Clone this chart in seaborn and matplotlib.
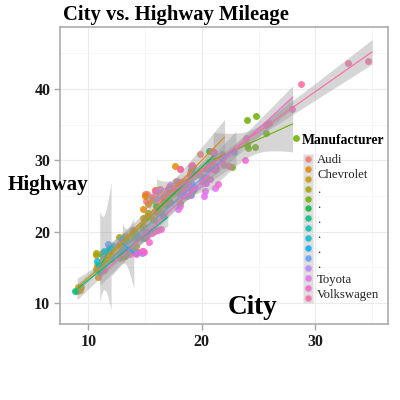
import numpy as np
import pandas as pd
import matplotlib
matplotlib.use("Agg")
import matplotlib.pyplot as plt
from matplotlib.lines import Line2D
import seaborn as sns

# ---- data (mpg: city / highway mileage by manufacturer) ----
manufacturers = ["audi", "chevrolet", "dodge", "ford", "honda", "hyundai", "jeep",
                 "land rover", "lincoln", "mercury", "nissan", "pontiac", "subaru",
                 "toyota", "volkswagen"]
cty_audi = [18, 21, 20, 21, 16, 18, 18, 18, 16, 20, 19, 15, 17, 17, 15, 15, 17, 16]
hwy_audi = [29, 29, 31, 30, 26, 26, 27, 26, 25, 28, 27, 25, 25, 25, 25, 24, 25, 23]
cty_chevrolet = [14, 11, 14, 13, 12, 16, 15, 16, 15, 15, 14, 11, 11, 14, 19, 22, 18, 18, 17]
hwy_chevrolet = [20, 15, 20, 17, 17, 26, 23, 26, 25, 24, 19, 14, 15, 17, 27, 30, 26, 29, 26]
cty_dodge = [18, 17, 16, 16, 17, 17, 11, 15, 15, 16, 16, 15, 14, 13, 14, 14, 14, 9, 11, 11,
             13, 13, 9, 13, 11, 13, 11, 11, 13, 13, 9, 12, 11, 12, 9, 11, 11]
hwy_dodge = [24, 24, 22, 22, 24, 24, 17, 22, 21, 23, 23, 19, 18, 17, 17, 19, 19, 12, 17, 15,
             17, 17, 12, 17, 15, 18, 15, 16, 17, 17, 12, 16, 15, 16, 12, 15, 15]
cty_ford = [11, 11, 12, 14, 13, 13, 13, 13, 13, 13, 13, 12, 13, 11, 13, 13,
            18, 18, 17, 16, 15, 15, 15, 15, 14]
hwy_ford = [17, 17, 18, 17, 19, 19, 19, 19, 17, 17, 16, 17, 17, 15, 17, 17,
            26, 25, 26, 24, 21, 22, 23, 22, 20]
cty_honda = [28, 24, 25, 23, 24, 26, 25, 24, 21]
hwy_honda = [33, 32, 32, 29, 32, 34, 36, 36, 29]
cty_hyundai = [18, 18, 21, 21, 18, 18, 19, 19, 19, 17, 17, 17, 16, 17]
hwy_hyundai = [26, 27, 30, 31, 26, 26, 28, 26, 29, 24, 24, 24, 24, 24]
cty_jeep = [17, 15, 15, 14, 9, 14, 13, 11]
hwy_jeep = [22, 19, 20, 17, 12, 19, 18, 14]
cty_landrover = [11, 12, 12, 11]
hwy_landrover = [15, 18, 18, 15]
cty_lincoln = [11, 11, 12]
hwy_lincoln = [17, 16, 18]
cty_mercury = [14, 13, 13, 13]
hwy_mercury = [17, 19, 19, 17]
cty_nissan = [19, 19, 20, 23, 19, 18, 18, 19, 19, 14, 15, 14, 12]
hwy_nissan = [27, 29, 27, 31, 26, 26, 26, 25, 25, 17, 17, 20, 18]
cty_pontiac = [18, 16, 17, 18, 16]
hwy_pontiac = [26, 26, 27, 26, 25]
cty_subaru = [18, 18, 20, 19, 20, 18, 21, 19, 19, 19, 20, 20, 19, 20]
hwy_subaru = [25, 24, 27, 25, 26, 23, 26, 26, 26, 26, 27, 25, 27, 27]
cty_toyota = [15, 16, 15, 15, 16, 14, 21, 21, 21, 21, 18, 18, 19, 21, 21, 21, 22, 18, 18, 18,
              24, 24, 26, 28, 26, 11, 13, 15, 16, 15, 15, 16, 14, 15]
hwy_toyota = [20, 20, 19, 17, 20, 17, 27, 29, 31, 31, 26, 26, 28, 27, 29, 31, 31, 26, 26, 27,
              30, 33, 35, 37, 35, 15, 18, 20, 20, 19, 17, 20, 17, 17]
cty_volkswagen = [21, 19, 21, 22, 17, 33, 21, 19, 22, 21, 21, 21, 16, 17,
                  35, 29, 21, 19, 20, 20, 21, 18, 19, 21, 16, 18, 17]
hwy_volkswagen = [29, 29, 31, 29, 24, 44, 29, 29, 29, 29, 29, 29, 23, 24,
                  44, 41, 29, 26, 28, 29, 29, 29, 28, 29, 26, 26, 26]

cty_lists = [cty_audi, cty_chevrolet, cty_dodge, cty_ford, cty_honda, cty_hyundai, cty_jeep,
             cty_landrover, cty_lincoln, cty_mercury, cty_nissan, cty_pontiac, cty_subaru,
             cty_toyota, cty_volkswagen]
hwy_lists = [hwy_audi, hwy_chevrolet, hwy_dodge, hwy_ford, hwy_honda, hwy_hyundai, hwy_jeep,
             hwy_landrover, hwy_lincoln, hwy_mercury, hwy_nissan, hwy_pontiac, hwy_subaru,
             hwy_toyota, hwy_volkswagen]

legend_labels = ["Audi", "Chevrolet", ".", ".", ".", ".", ".", ".", "Toyota", "Volkswagen"]
x_ticks = [10, 20, 30]
y_ticks = [10, 20, 30, 40]

hue_colors = ["#F8766D", "#E58700", "#C99800", "#A3A500", "#6BB100", "#00BA38", "#00BF7D",
              "#00C0AF", "#00BCD8", "#00B0F6", "#619CFF", "#B983FF", "#E76BF3", "#FD61D1",
              "#FF67A4"]

rows = []
for m, cs, hs in zip(manufacturers, cty_lists, hwy_lists):
    for c, h in zip(cs, hs):
        rows.append((m, c, h))
df = pd.DataFrame(rows, columns=["manufacturer", "cty", "hwy"])

# Student t 97.5% quantiles
try:
    from scipy import stats as _st
    def tq(d):
        return float(_st.t.ppf(0.975, d))
except Exception:
    _tt = {1: 12.706, 2: 4.303, 3: 3.182, 4: 2.776, 5: 2.571, 6: 2.447, 7: 2.365,
           8: 2.306, 9: 2.262, 10: 2.228, 11: 2.201, 12: 2.179, 13: 2.160, 14: 2.145,
           15: 2.131, 16: 2.120, 17: 2.110, 18: 2.101, 19: 2.093, 20: 2.086}
    def tq(d):
        return _tt.get(d, 2.06 if d < 30 else 2.035)

# ---- style ----
sns.set_theme(style="whitegrid")
plt.rcParams["font.family"] = ["Liberation Serif", "DejaVu Serif"]
np.random.seed(3)

fig = plt.figure(figsize=(4, 4), dpi=100)
ax = fig.add_axes([60 / 400, 1 - 324 / 400, 328 / 400, 297 / 400])
ax.set_facecolor("white")

for m, col in zip(manufacturers, hue_colors):
    sub = df[df["manufacturer"] == m]
    sns.regplot(data=sub, x="cty", y="hwy", ax=ax, color=col, ci=None,
                x_jitter=0.4, y_jitter=0.4,
                scatter_kws={"s": 25, "alpha": 0.85, "linewidths": 0, "zorder": 2},
                line_kws={"lw": 0.8, "zorder": 4})
    # standard-error band of the linear fit (as geom_smooth(method="lm"))
    x = sub["cty"].to_numpy(float)
    y = sub["hwy"].to_numpy(float)
    n = len(x)
    sxx = ((x - x.mean()) ** 2).sum()
    if n > 2 and sxx > 0:
        b1, b0 = np.polyfit(x, y, 1)
        rss = ((y - (b0 + b1 * x)) ** 2).sum()
        sig = np.sqrt(rss / (n - 2))
        g = np.linspace(x.min(), x.max(), 100)
        se = sig * np.sqrt(1 / n + (g - x.mean()) ** 2 / sxx)
        fit = b0 + b1 * g
        ax.fill_between(g, fit - tq(n - 2) * se, fit + tq(n - 2) * se,
                        color="#999999", alpha=0.4, lw=0, zorder=3)

ax.set_xlim(7.5, 36.4)
ax.set_ylim(7.05, 48.7)
ax.set_xticks(x_ticks)
ax.set_yticks(y_ticks)
ax.set_xticks([15, 25, 35], minor=True)
ax.set_yticks([15, 25, 35, 45], minor=True)
ax.grid(True, which="major", color="#ebebeb", lw=0.8)
ax.grid(True, which="minor", color="#f3f3f3", lw=0.5)
ax.set_axisbelow(True)
ax.set_xlabel("")
ax.set_ylabel("")
for s in ax.spines.values():
    s.set_visible(True)
    s.set_color("#a6a6a6")
    s.set_linewidth(1.1)
ax.tick_params(which="major", length=4, width=1, color="#a6a6a6", pad=3,
               bottom=True, left=True)
ax.tick_params(which="minor", length=0)
for lab in ax.get_xticklabels() + ax.get_yticklabels():
    lab.set_fontweight("bold")
    lab.set_fontsize(11.5)
    lab.set_color("#1a1a1a")

fig.text(63 / 400, 1 - 15 / 400, "City vs. Highway Mileage", ha="left", va="center",
         fontsize=14.9, fontweight="bold", color="black")
fig.text(8 / 400, 1 - 185 / 400, "Highway", ha="left", va="center",
         fontsize=15.2, fontweight="bold", color="black")
fig.text(252 / 400, 1 - 307 / 400, "City", ha="center", va="center",
         fontsize=19.5, fontweight="bold", color="black")
fig.text(302 / 400, 1 - 140 / 400, "Manufacturer", ha="left", va="center",
         fontsize=9.8, fontweight="bold", color="black")

# ---- legend ----
handles = []
for col in hue_colors:
    bg = Line2D([], [], ls="none", marker="s", markersize=7.3, markerfacecolor="#dcdcdc",
                markeredgecolor="none")
    dot = Line2D([], [], ls="none", marker="o", markersize=4.6, markerfacecolor=col,
                 markeredgecolor="none", alpha=0.85)
    handles.append((bg, dot))
leg = ax.legend(handles, [" "] * len(handles), loc="upper left",
                bbox_to_anchor=(297 / 400, 1 - 148 / 400), bbox_transform=fig.transFigure,
                frameon=False, fontsize=7.2, handleheight=1.0, handlelength=0.8,
                labelspacing=0.0, handletextpad=0.6, borderpad=0.2)
leg.set_zorder(10)

fig.canvas.draw()
r = fig.canvas.get_renderer()
texts = leg.get_texts()
b0 = texts[0].get_window_extent(r)
yA = (b0.y0 + b0.y1) / 2
xL = b0.x0 - 1
W, H = fig.bbox.width, fig.bbox.height
for i, lab in enumerate(legend_labels):
    y = yA - 15 * i
    fig.text(xL / W, y / H, lab, ha="left", va="center", fontsize=9.2, color="#222222")

fig.savefig("out.png", dpi=100)
